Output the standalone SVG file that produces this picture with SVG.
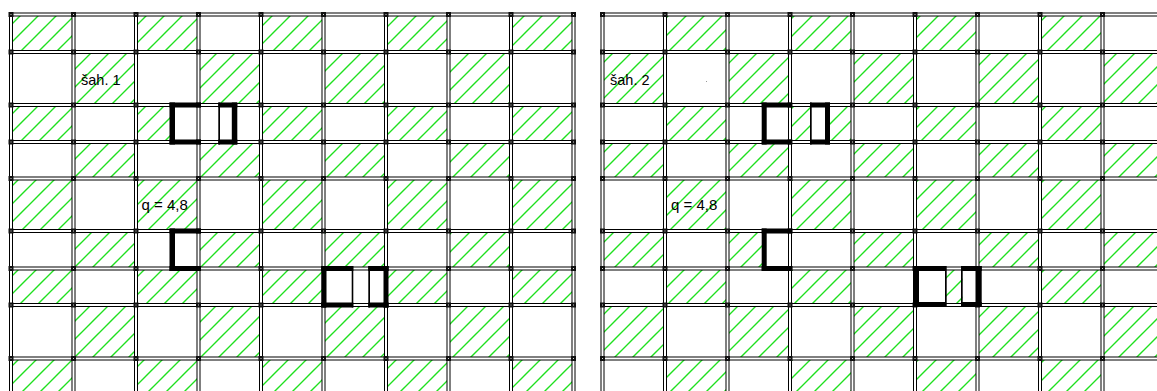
<svg xmlns="http://www.w3.org/2000/svg" xmlns:xlink="http://www.w3.org/1999/xlink" width="1157" height="391" viewBox="0 0 1157 391">
<style>
.gk{fill:none;stroke:#000;stroke-width:4}
.gw{fill:none;stroke:#fff;stroke-width:2}
.hz{fill:url(#hatch)}
.wt{fill:#fff}
.wall{fill:#000}
.mk{fill:none;stroke:none;marker-start:url(#m);marker-mid:url(#m);marker-end:url(#m)}
.lbl{font-family:"Liberation Sans",Arial,sans-serif;font-size:14.5px;fill:#000}
</style>
<defs>
<pattern id="hatch" patternUnits="userSpaceOnUse" width="18" height="18">
<path d="M0,18L18,0M-2,2L2,-2M16,20L20,16" stroke="#1fe01f" stroke-width="1.4" fill="none"/>
</pattern>
<marker id="m" markerUnits="userSpaceOnUse" markerWidth="6" markerHeight="6" refX="3" refY="3" overflow="visible">
<rect x="0.5" y="0.5" width="5" height="5" fill="#111"/>
<rect x="2.5" y="2.5" width="1" height="1" fill="#ddd"/>
</marker>
<path id="gridL" d="M11,12.5V391M73.5,12.5V391M136,12.5V391M198.5,12.5V391M261,12.5V391M323.5,12.5V391M386,12.5V391M448.5,12.5V391M511,12.5V391M573.5,12.5V391M9,14.5H575.5M9,52H575.5M9,105H575.5M9,142H575.5M9,178.5H575.5M9,231H575.5M9,268.5H575.5M9,305H575.5M9,358.5H575.5"/>
<path id="gridR" d="M602.5,12.5V391M665,12.5V391M727.5,12.5V391M790,12.5V391M852.5,12.5V391M915,12.5V391M977.5,12.5V391M1040,12.5V391M1102.5,12.5V391M600.5,14.5H1157M600.5,52H1157M600.5,105H1157M600.5,142H1157M600.5,178.5H1157M600.5,231H1157M600.5,268.5H1157M600.5,305H1157M600.5,358.5H1157"/>
</defs>
<rect width="1157" height="391" fill="#fff"/>

<g id="left-plan">
<g id="left-hatch">
<rect class="hz" x="11" y="14.5" width="62.5" height="37.5"/><rect class="hz" x="136" y="14.5" width="62.5" height="37.5"/><rect class="hz" x="261" y="14.5" width="62.5" height="37.5"/><rect class="hz" x="386" y="14.5" width="62.5" height="37.5"/><rect class="hz" x="511" y="14.5" width="62.5" height="37.5"/>
<rect class="hz" x="73.5" y="52" width="62.5" height="53"/><rect class="hz" x="198.5" y="52" width="62.5" height="53"/><rect class="hz" x="323.5" y="52" width="62.5" height="53"/><rect class="hz" x="448.5" y="52" width="62.5" height="53"/>
<rect class="hz" x="11" y="105" width="62.5" height="37"/><rect class="hz" x="136" y="105" width="62.5" height="37"/><rect class="hz" x="261" y="105" width="62.5" height="37"/><rect class="hz" x="386" y="105" width="62.5" height="37"/><rect class="hz" x="511" y="105" width="62.5" height="37"/>
<rect class="hz" x="73.5" y="142" width="62.5" height="36.5"/><rect class="hz" x="198.5" y="142" width="62.5" height="36.5"/><rect class="hz" x="323.5" y="142" width="62.5" height="36.5"/><rect class="hz" x="448.5" y="142" width="62.5" height="36.5"/>
<rect class="hz" x="11" y="178.5" width="62.5" height="52.5"/><rect class="hz" x="136" y="178.5" width="62.5" height="52.5"/><rect class="hz" x="261" y="178.5" width="62.5" height="52.5"/><rect class="hz" x="386" y="178.5" width="62.5" height="52.5"/><rect class="hz" x="511" y="178.5" width="62.5" height="52.5"/>
<rect class="hz" x="73.5" y="231" width="62.5" height="37.5"/><rect class="hz" x="198.5" y="231" width="62.5" height="37.5"/><rect class="hz" x="323.5" y="231" width="62.5" height="37.5"/><rect class="hz" x="448.5" y="231" width="62.5" height="37.5"/>
<rect class="hz" x="11" y="268.5" width="62.5" height="36.5"/><rect class="hz" x="136" y="268.5" width="62.5" height="36.5"/><rect class="hz" x="261" y="268.5" width="62.5" height="36.5"/><rect class="hz" x="386" y="268.5" width="62.5" height="36.5"/><rect class="hz" x="511" y="268.5" width="62.5" height="36.5"/>
<rect class="hz" x="73.5" y="305" width="62.5" height="53.5"/><rect class="hz" x="198.5" y="305" width="62.5" height="53.5"/><rect class="hz" x="323.5" y="305" width="62.5" height="53.5"/><rect class="hz" x="448.5" y="305" width="62.5" height="53.5"/>
<rect class="hz" x="11" y="358.5" width="62.5" height="33"/><rect class="hz" x="136" y="358.5" width="62.5" height="33"/><rect class="hz" x="261" y="358.5" width="62.5" height="33"/><rect class="hz" x="386" y="358.5" width="62.5" height="33"/><rect class="hz" x="511" y="358.5" width="62.5" height="33"/>
</g>
<rect class="wt" x="174" y="106" width="23" height="35"/>
<g id="left-grid">
<use xlink:href="#gridL" class="gk"/>
<use xlink:href="#gridL" class="gw"/>
</g>
<g id="left-columns">
<polyline class="mk" points="11,14.5 73.5,14.5 136,14.5 198.5,14.5 261,14.5 323.5,14.5 386,14.5 448.5,14.5 511,14.5 573.5,14.5"/>
<polyline class="mk" points="11,52 73.5,52 136,52 198.5,52 261,52 323.5,52 386,52 448.5,52 511,52 573.5,52"/>
<polyline class="mk" points="11,105 73.5,105 136,105 198.5,105 261,105 323.5,105 386,105 448.5,105 511,105 573.5,105"/>
<polyline class="mk" points="11,142 73.5,142 136,142 198.5,142 261,142 323.5,142 386,142 448.5,142 511,142 573.5,142"/>
<polyline class="mk" points="11,178.5 73.5,178.5 136,178.5 198.5,178.5 261,178.5 323.5,178.5 386,178.5 448.5,178.5 511,178.5 573.5,178.5"/>
<polyline class="mk" points="11,231 73.5,231 136,231 198.5,231 261,231 323.5,231 386,231 448.5,231 511,231 573.5,231"/>
<polyline class="mk" points="11,268.5 73.5,268.5 136,268.5 198.5,268.5 261,268.5 323.5,268.5 386,268.5 448.5,268.5 511,268.5 573.5,268.5"/>
<polyline class="mk" points="11,305 73.5,305 136,305 198.5,305 261,305 323.5,305 386,305 448.5,305 511,305 573.5,305"/>
<polyline class="mk" points="11,358.5 73.5,358.5 136,358.5 198.5,358.5 261,358.5 323.5,358.5 386,358.5 448.5,358.5 511,358.5 573.5,358.5"/>
</g>
<g id="left-walls">
<rect class="wall" x="169.5" y="102.5" width="5.5" height="42"/>
<rect class="wall" x="169.5" y="102.5" width="31.5" height="5"/>
<rect class="wall" x="169.5" y="139.5" width="31.5" height="5"/>
<rect class="wall" x="218.3" y="102.5" width="19" height="5"/>
<rect class="wall" x="218.3" y="139.5" width="19" height="5"/>
<rect class="wall" x="231.8" y="102.5" width="5.5" height="42"/>
<rect class="wall" x="218.3" y="102.5" width="1.7" height="42"/>
<rect class="wall" x="169.5" y="228.5" width="5.5" height="42.5"/>
<rect class="wall" x="169.5" y="228.5" width="31.5" height="5"/>
<rect class="wall" x="169.5" y="266" width="31.5" height="5"/>
<rect class="wall" x="321.5" y="266" width="5" height="41.5"/>
<rect class="wall" x="321.5" y="266" width="31.8" height="5"/>
<rect class="wall" x="321.5" y="302.5" width="31.8" height="5"/>
<rect class="wall" x="351.7" y="266" width="1.6" height="41.5"/>
<rect class="wall" x="368.3" y="266" width="20.2" height="5"/>
<rect class="wall" x="368.3" y="302.5" width="20.2" height="5"/>
<rect class="wall" x="368.3" y="266" width="1.7" height="41.5"/>
<rect class="wall" x="383.5" y="266" width="5" height="41.5"/>
</g>
<text class="lbl" x="81" y="84.5">šah. 1</text>
<text class="lbl" x="141.5" y="210" style="font-size:15px">q = 4,8</text>
</g>

<g id="right-plan">
<g id="right-hatch">
<rect class="hz" x="665" y="14.5" width="62.5" height="37.5"/><rect class="hz" x="790" y="14.5" width="62.5" height="37.5"/><rect class="hz" x="915" y="14.5" width="62.5" height="37.5"/><rect class="hz" x="1040" y="14.5" width="62.5" height="37.5"/>
<rect class="hz" x="602.5" y="52" width="62.5" height="53"/><rect class="hz" x="727.5" y="52" width="62.5" height="53"/><rect class="hz" x="852.5" y="52" width="62.5" height="53"/><rect class="hz" x="977.5" y="52" width="62.5" height="53"/><rect class="hz" x="1102.5" y="52" width="54.5" height="53"/>
<rect class="hz" x="665" y="105" width="62.5" height="37"/><rect class="hz" x="790" y="105" width="62.5" height="37"/><rect class="hz" x="915" y="105" width="62.5" height="37"/><rect class="hz" x="1040" y="105" width="62.5" height="37"/>
<rect class="hz" x="602.5" y="142" width="62.5" height="36.5"/><rect class="hz" x="727.5" y="142" width="62.5" height="36.5"/><rect class="hz" x="852.5" y="142" width="62.5" height="36.5"/><rect class="hz" x="977.5" y="142" width="62.5" height="36.5"/><rect class="hz" x="1102.5" y="142" width="54.5" height="36.5"/>
<rect class="hz" x="665" y="178.5" width="62.5" height="52.5"/><rect class="hz" x="790" y="178.5" width="62.5" height="52.5"/><rect class="hz" x="915" y="178.5" width="62.5" height="52.5"/><rect class="hz" x="1040" y="178.5" width="62.5" height="52.5"/>
<rect class="hz" x="602.5" y="231" width="62.5" height="37.5"/><rect class="hz" x="727.5" y="231" width="62.5" height="37.5"/><rect class="hz" x="852.5" y="231" width="62.5" height="37.5"/><rect class="hz" x="977.5" y="231" width="62.5" height="37.5"/><rect class="hz" x="1102.5" y="231" width="54.5" height="37.5"/>
<rect class="hz" x="665" y="268.5" width="62.5" height="36.5"/><rect class="hz" x="790" y="268.5" width="62.5" height="36.5"/><rect class="hz" x="915" y="268.5" width="62.5" height="36.5"/><rect class="hz" x="1040" y="268.5" width="62.5" height="36.5"/>
<rect class="hz" x="602.5" y="305" width="62.5" height="53.5"/><rect class="hz" x="727.5" y="305" width="62.5" height="53.5"/><rect class="hz" x="852.5" y="305" width="62.5" height="53.5"/><rect class="hz" x="977.5" y="305" width="62.5" height="53.5"/><rect class="hz" x="1102.5" y="305" width="54.5" height="53.5"/>
<rect class="hz" x="665" y="358.5" width="62.5" height="33"/><rect class="hz" x="790" y="358.5" width="62.5" height="33"/><rect class="hz" x="915" y="358.5" width="62.5" height="33"/><rect class="hz" x="1040" y="358.5" width="62.5" height="33"/>
</g>
<rect class="wt" x="811" y="106" width="14.5" height="35"/>
<rect class="wt" x="766" y="232" width="22" height="35"/>
<rect class="wt" x="918" y="270" width="27" height="33"/>
<rect class="wt" x="962.5" y="270" width="14" height="33"/>
<g id="right-grid">
<use xlink:href="#gridR" class="gk"/>
<use xlink:href="#gridR" class="gw"/>
</g>
<g id="right-columns">
<polyline class="mk" points="602.5,14.5 665,14.5 727.5,14.5 790,14.5 852.5,14.5 915,14.5 977.5,14.5 1040,14.5 1102.5,14.5"/>
<polyline class="mk" points="602.5,52 665,52 727.5,52 790,52 852.5,52 915,52 977.5,52 1040,52 1102.5,52"/>
<polyline class="mk" points="602.5,105 665,105 727.5,105 790,105 852.5,105 915,105 977.5,105 1040,105 1102.5,105"/>
<polyline class="mk" points="602.5,142 665,142 727.5,142 790,142 852.5,142 915,142 977.5,142 1040,142 1102.5,142"/>
<polyline class="mk" points="602.5,178.5 665,178.5 727.5,178.5 790,178.5 852.5,178.5 915,178.5 977.5,178.5 1040,178.5 1102.5,178.5"/>
<polyline class="mk" points="602.5,231 665,231 727.5,231 790,231 852.5,231 915,231 977.5,231 1040,231 1102.5,231"/>
<polyline class="mk" points="602.5,268.5 665,268.5 727.5,268.5 790,268.5 852.5,268.5 915,268.5 977.5,268.5 1040,268.5 1102.5,268.5"/>
<polyline class="mk" points="602.5,305 665,305 727.5,305 790,305 852.5,305 915,305 977.5,305 1040,305 1102.5,305"/>
<polyline class="mk" points="602.5,358.5 665,358.5 727.5,358.5 790,358.5 852.5,358.5 915,358.5 977.5,358.5 1040,358.5 1102.5,358.5"/>
</g>
<g id="right-walls">
<rect class="wall" x="761.7" y="102.5" width="5" height="42"/>
<rect class="wall" x="761.7" y="102.5" width="30" height="5"/>
<rect class="wall" x="761.7" y="139.5" width="30" height="5"/>
<rect class="wall" x="810" y="102.5" width="20" height="5"/>
<rect class="wall" x="810" y="139.5" width="20" height="5"/>
<rect class="wall" x="810" y="102.5" width="1.7" height="42"/>
<rect class="wall" x="825" y="102.5" width="5" height="42"/>
<rect class="wall" x="761.7" y="228.5" width="5" height="42.5"/>
<rect class="wall" x="761.7" y="228.5" width="30.5" height="5"/>
<rect class="wall" x="761.7" y="266" width="30.5" height="5"/>
<rect class="wall" x="913" y="266" width="6" height="41"/>
<rect class="wall" x="913" y="266" width="32" height="5"/>
<rect class="wall" x="913" y="302" width="32" height="5"/>
<rect class="wall" x="945" y="266" width="1.7" height="41"/>
<rect class="wall" x="961" y="266" width="20.7" height="5"/>
<rect class="wall" x="961" y="302" width="20.7" height="5"/>
<rect class="wall" x="961" y="266" width="1.7" height="41"/>
<rect class="wall" x="976" y="266" width="5.7" height="41"/>
</g>
<text class="lbl" x="610" y="84.5">šah. 2</text>
<text class="lbl" x="671" y="210" style="font-size:15px">q = 4,8</text>
<rect x="706" y="81" width="1" height="1" fill="#999"/>
</g>
</svg>
